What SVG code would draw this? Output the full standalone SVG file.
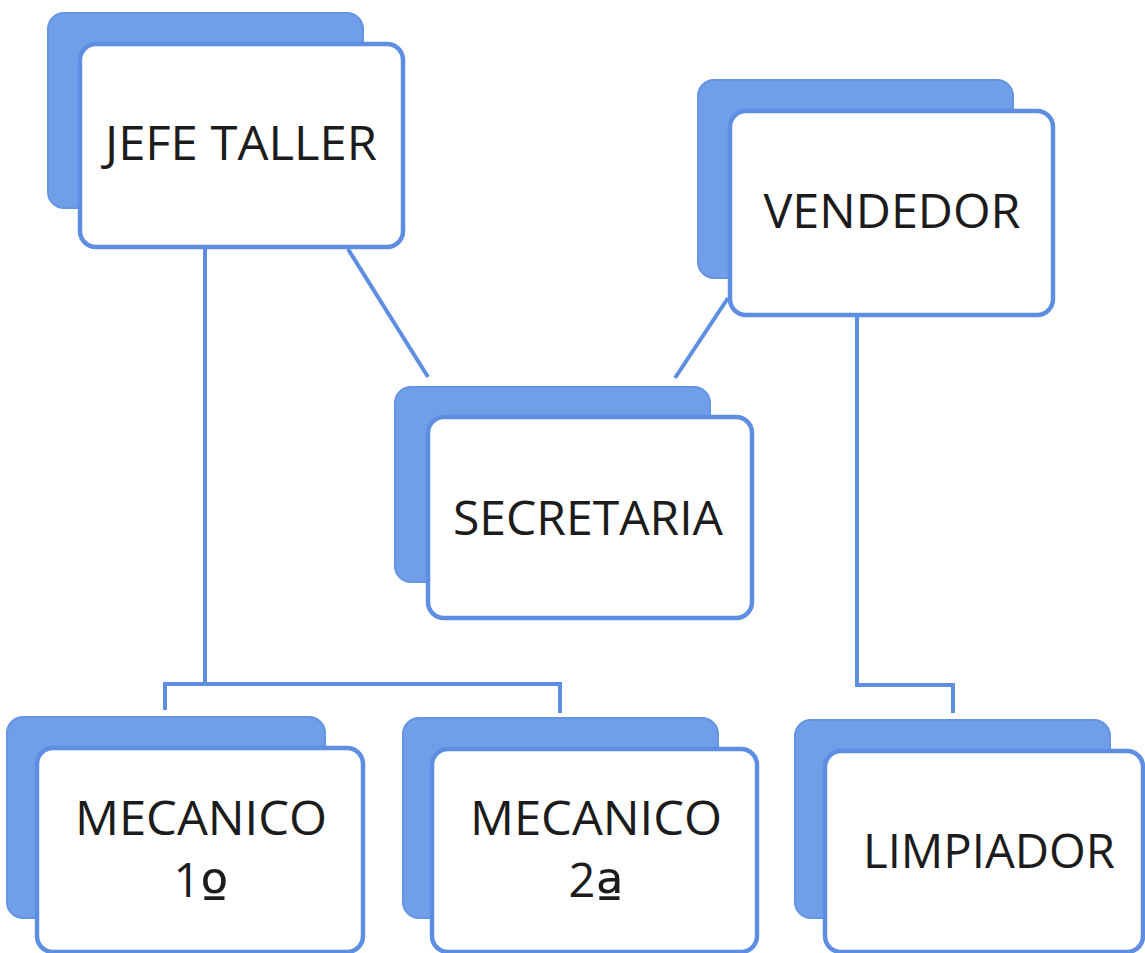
<svg xmlns="http://www.w3.org/2000/svg" width="1145" height="953" viewBox="0 0 1145 953">
<style>
.back{fill:#719ee8;stroke:#6494e4;stroke-width:2}
.front{fill:#ffffff;stroke:#5d8ee2;stroke-width:4.5}
.conn{fill:none;stroke:#5d8ee2;stroke-width:4}
.lbl{font-family:"Open Sans","Noto Sans",sans-serif;font-size:47px;fill:#1c1c1c;text-anchor:middle}
.ord{font-family:"DejaVu Sans",sans-serif;font-size:60px}
</style>
<rect width="1145" height="953" fill="#ffffff"/>
<g id="connectors">
<polyline class="conn" points="205,247 205,684"/>
<polyline class="conn" points="165,710 165,684 560,684 560,713"/>
<line class="conn" x1="348" y1="249" x2="428" y2="377"/>
<line class="conn" x1="728" y1="298" x2="675" y2="378"/>
<polyline class="conn" points="857,315 857,685 953,685 953,713"/>
</g>
<g id="jefe-taller">
<rect class="back" x="48" y="13" width="315" height="195" rx="16"/>
<rect class="front" x="80" y="44" width="323" height="203" rx="16"/>
<text class="lbl" x="241" y="160" textLength="272" lengthAdjust="spacingAndGlyphs">JEFE TALLER</text>
</g>
<g id="vendedor">
<rect class="back" x="698" y="80" width="315" height="198" rx="16"/>
<rect class="front" x="730" y="111" width="323" height="204" rx="16"/>
<text class="lbl" x="892" y="228" textLength="257" lengthAdjust="spacingAndGlyphs">VENDEDOR</text>
</g>
<g id="secretaria">
<rect class="back" x="395" y="387" width="315" height="195" rx="16"/>
<rect class="front" x="428" y="417" width="324" height="201" rx="16"/>
<text class="lbl" x="588" y="535" textLength="270" lengthAdjust="spacingAndGlyphs">SECRETARIA</text>
</g>
<g id="mecanico-1">
<rect class="back" x="7" y="717" width="318" height="201" rx="16"/>
<rect class="front" x="37" y="748" width="326" height="204" rx="16"/>
<text class="lbl" x="201" y="835" textLength="252" lengthAdjust="spacingAndGlyphs">MECANICO</text>
<text class="lbl" x="201" y="897">1<tspan class="ord" dy="17">º</tspan></text>
</g>
<g id="mecanico-2">
<rect class="back" x="403" y="718" width="315" height="200" rx="16"/>
<rect class="front" x="432" y="749" width="325" height="203" rx="16"/>
<text class="lbl" x="596" y="835" textLength="252" lengthAdjust="spacingAndGlyphs">MECANICO</text>
<text class="lbl" x="596" y="897">2<tspan class="ord" dy="17">ª</tspan></text>
</g>
<g id="limpiador">
<rect class="back" x="795" y="720" width="315" height="198" rx="16"/>
<rect class="front" x="825" y="751" width="318" height="201" rx="16"/>
<text class="lbl" x="989" y="868" textLength="252" lengthAdjust="spacingAndGlyphs">LIMPIADOR</text>
</g>
</svg>
